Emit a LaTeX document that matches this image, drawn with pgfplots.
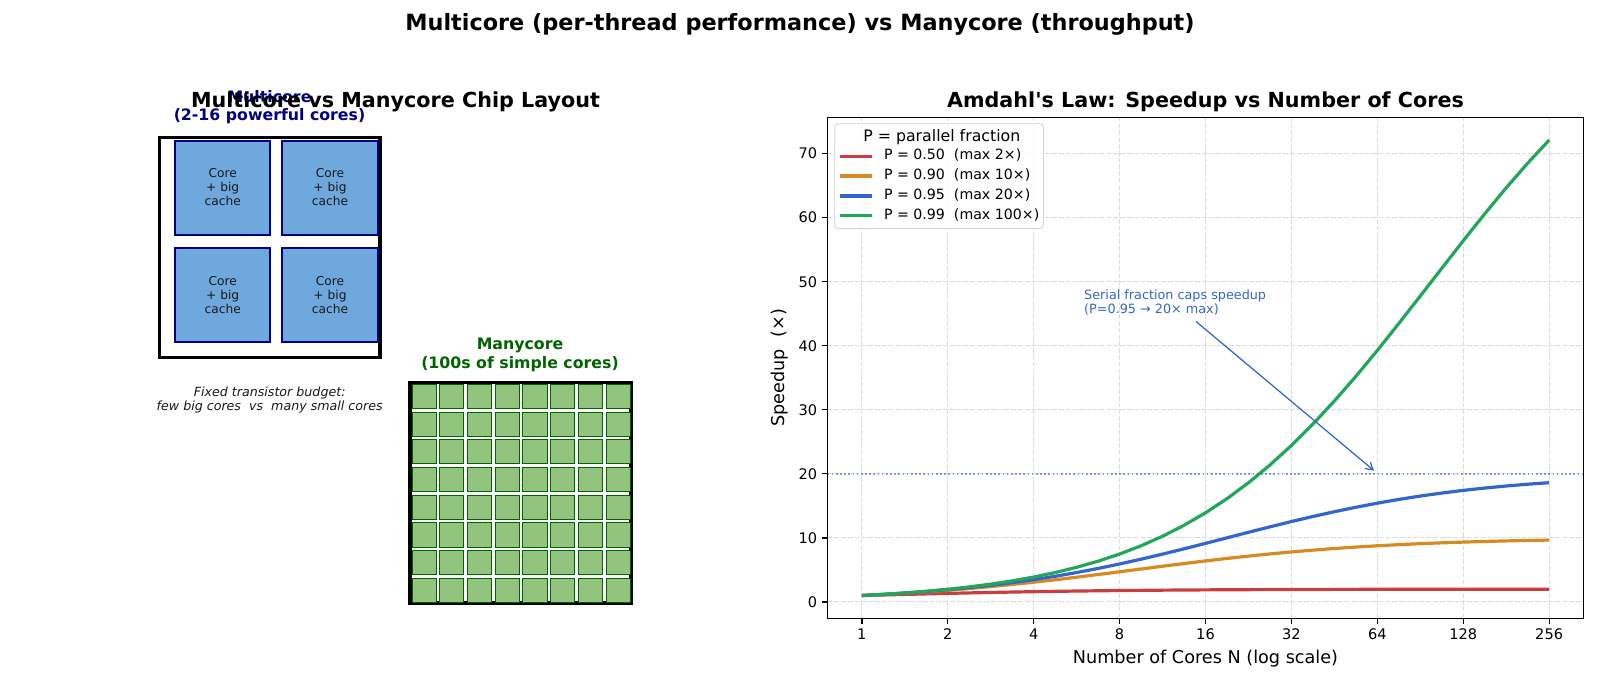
\documentclass[border=0pt]{standalone}
\usepackage{fontspec}
\setmainfont{DejaVu Sans}[Ligatures=TeXOff]
\usepackage{pgfplots}
\pgfplotsset{compat=1.18}
\usetikzlibrary{arrows.meta}
\definecolor{cred}{HTML}{C93F3F}
\definecolor{corange}{HTML}{D88A22}
\definecolor{cblue}{HTML}{3366CC}
\definecolor{cgreen}{HTML}{22A65A}
\definecolor{navyc}{RGB}{0,0,128}
\definecolor{dgreen}{RGB}{0,100,0}
\definecolor{coreblue}{HTML}{6FA8DC}
\definecolor{cellgreen}{HTML}{93C47D}
\newcommand{\fsz}[1]{\fontsize{#1}{#1}\selectfont}
\begin{document}
\begin{tikzpicture}
\path (0,0) rectangle (1152pt,493.92pt);
% ---------------- overlay axis in pixel units: left panel diagram + suptitle
\begin{axis}[at={(0pt,0pt)}, anchor=south west, scale only axis,
  width=1152pt, height=493.92pt, xmin=0, xmax=1600, ymin=0, ymax=686,
  y dir=reverse, hide axis, clip=false]
% suptitle
\node[font=\bfseries\fsz{16.1}, anchor=center] at (axis cs:800,24.5) {Multicore (per-thread performance) vs Manycore (throughput)};
% multicore labels
\node[font=\bfseries\fsz{11.35}, text=navyc] at (axis cs:269.5,97) {Multicore};
\node[font=\bfseries\fsz{11.35}, text=navyc] at (axis cs:269.5,116) {(2-16 powerful cores)};
% panel title
\node[font=\bfseries\fsz{14.9}, anchor=base, inner sep=0pt] at (axis cs:395.5,107.7) {Multicore vs Manycore Chip Layout};
% multicore chip
\draw[line width=2.2pt] (axis cs:159.5,137.5) rectangle (axis cs:380,357.5);
\draw[fill=coreblue, draw=navyc, line width=1.4pt] (axis cs:175,140.7) rectangle (axis cs:270.3,235.3);
\draw[fill=coreblue, draw=navyc, line width=1.4pt] (axis cs:282.3,140.7) rectangle (axis cs:377.7,235.3);
\draw[fill=coreblue, draw=navyc, line width=1.4pt] (axis cs:175,247.7) rectangle (axis cs:270.3,342.3);
\draw[fill=coreblue, draw=navyc, line width=1.4pt] (axis cs:282.3,247.7) rectangle (axis cs:377.7,342.3);
\node[font=\fontsize{8.8}{10.1}\selectfont, align=center, text=black!90] at (axis cs:222.7,187.2) {Core\\+ big\\cache};
\node[font=\fontsize{8.8}{10.1}\selectfont, align=center, text=black!90] at (axis cs:330,187.2) {Core\\+ big\\cache};
\node[font=\fontsize{8.8}{10.1}\selectfont, align=center, text=black!90] at (axis cs:222.7,294.7) {Core\\+ big\\cache};
\node[font=\fontsize{8.8}{10.1}\selectfont, align=center, text=black!90] at (axis cs:330,294.7) {Core\\+ big\\cache};
% caption
\node[font=\itshape\fsz{9.1}, text=black!90] at (axis cs:269.7,392.7) {Fixed transistor budget:};
\node[font=\itshape\fsz{9.1}, text=black!90] at (axis cs:269.7,407.3) {few big cores\ \ vs\ \ many small cores};
% manycore labels
\node[font=\bfseries\fsz{11.35}, text=dgreen] at (axis cs:520,345.7) {Manycore};
\node[font=\bfseries\fsz{11.35}, text=dgreen] at (axis cs:520,364) {(100s of simple cores)};
% manycore cells
\addplot[only marks, mark=square*, mark size=8.65pt,
  mark options={fill=cellgreen, draw=dgreen, line width=0.7pt}] coordinates {
(424.2,396.5) (451.9,396.5) (479.6,396.5) (507.3,396.5) (535.0,396.5) (562.7,396.5) (590.4,396.5) (618.1,396.5)
(424.2,424.2) (451.9,424.2) (479.6,424.2) (507.3,424.2) (535.0,424.2) (562.7,424.2) (590.4,424.2) (618.1,424.2)
(424.2,451.9) (451.9,451.9) (479.6,451.9) (507.3,451.9) (535.0,451.9) (562.7,451.9) (590.4,451.9) (618.1,451.9)
(424.2,479.6) (451.9,479.6) (479.6,479.6) (507.3,479.6) (535.0,479.6) (562.7,479.6) (590.4,479.6) (618.1,479.6)
(424.2,507.3) (451.9,507.3) (479.6,507.3) (507.3,507.3) (535.0,507.3) (562.7,507.3) (590.4,507.3) (618.1,507.3)
(424.2,535.0) (451.9,535.0) (479.6,535.0) (507.3,535.0) (535.0,535.0) (562.7,535.0) (590.4,535.0) (618.1,535.0)
(424.2,562.7) (451.9,562.7) (479.6,562.7) (507.3,562.7) (535.0,562.7) (562.7,562.7) (590.4,562.7) (618.1,562.7)
(424.2,590.2) (451.9,590.2) (479.6,590.2) (507.3,590.2) (535.0,590.2) (562.7,590.2) (590.4,590.2) (618.1,590.2)
};
\draw[line width=2.5pt] (axis cs:410,382.5) rectangle (axis cs:631,603);
\end{axis}
% ---------------- Amdahl axis
\begin{axis}[at={(595.8pt,48.74pt)}, anchor=south west, scale only axis,
  width=544.32pt, height=360.72pt,
  xmode=log, log basis x=2, xmin=0.75786, xmax=337.79, ymin=-2.5556, ymax=75.668,
  xtick={1,2,4,8,16,32,64,128,256}, xticklabels={1,2,4,8,16,32,64,128,256},
  ytick={0,10,20,30,40,50,60,70},
  /pgf/number format/assume math mode=true,
  tick label style={font=\fsz{10.5}},
  tick align=outside, tick pos=left, major tick length=4pt,
  every tick/.style={black, line width=0.9pt},
  axis line style={line width=0.9pt},
  grid=major, grid style={gray!28, line width=0.7pt, dash pattern=on 3.4pt off 1.5pt},
  xlabel={Number of Cores N (log scale)}, ylabel={Speedup\ \ (×)},
  label style={font=\fsz{12.7}},
  xlabel style={at={(axis description cs:0.5,-0.0812)}, anchor=center},
  ylabel style={at={(axis description cs:-0.0628,0.5)}, anchor=center},
  title={Amdahl's Law: Speedup vs Number of Cores},
  every axis title shift=0pt,
  title style={font=\bfseries\fsz{14.9}, at={(axis description cs:0.5,1)}, anchor=base, yshift=6.9pt, inner sep=0pt},
  legend cell align=left,
  legend style={at={(0.009,0.988)}, anchor=north west, draw=gray!35, line width=0.6pt,
    rounded corners=2.5pt, fill=white, fill opacity=0.8, text opacity=1,
    font=\fsz{10.2}, inner xsep=3pt, inner ysep=4pt, row sep=4.1pt, column sep=7.2pt,
    nodes={inner sep=0pt, text height=7.6pt, text depth=2.6pt}},
  legend image code/.code={\draw[#1, line width=2.3pt] (0pt,0pt) -- (23pt,0pt);},
]
\addlegendimage{empty legend}
\addlegendentry{\hspace*{-14.9pt}\raisebox{-1.5pt}{\fsz{11.35}P = parallel fraction}}
\addplot[cred, line width=2.3pt] coordinates {
(1,1) (1.18921,1.08643) (1.41421,1.17157) (1.68179,1.25423) (2,1.33333) (2.37841,1.40801) (2.82843,1.47759) (3.36359,1.54166)
(4,1.6) (4.75683,1.65259) (5.65685,1.69956) (6.72717,1.74117) (8,1.77778) (9.51366,1.80977) (11.3137,1.83760) (13.4543,1.86163)
(16,1.88235) (19.0273,1.90014) (22.6274,1.91535) (26.9087,1.92834) (32,1.93939) (38.0546,1.94879) (45.2548,1.95676) (53.8174,1.96351)
(64,1.96923) (76.1093,1.97406) (90.5097,1.97815) (107.635,1.98159) (128,1.98450) (152.219,1.98695) (181.019,1.98901) (215.269,1.99076) (256,1.99222)
};
\addlegendentry{P = 0.50~~(max 2×)}
\addplot[corange, line width=2.3pt] coordinates {
(1,1) (1.18921,1.16712) (1.41421,1.35796) (1.68179,1.57446) (2,1.81818) (2.37841,2.09029) (2.82843,2.39122) (3.36359,2.72056)
(4,3.07692) (4.75683,3.45779) (5.65685,3.85953) (6.72717,4.27739) (8,4.70588) (9.51366,5.13873) (11.3137,5.56950) (13.4543,5.99186)
(16,6.4) (19.0273,6.78889) (22.6274,7.15447) (26.9087,7.49364) (32,7.80488) (38.0546,8.08734) (45.2548,8.34116) (53.8174,8.56726)
(64,8.76712) (76.1093,8.94253) (90.5097,9.09556) (107.635,9.22836) (128,9.34307) (152.219,9.44174) (181.019,9.52638) (215.269,9.59869) (256,9.66038)
};
\addlegendentry{P = 0.90~~(max 10×)}
\addplot[cblue, line width=2.3pt] coordinates {
(1,1) (1.18921,1.17807) (1.41421,1.38553) (1.68179,1.62636) (2,1.90476) (2.37841,2.22506) (2.82843,2.59151) (3.36359,3.00809)
(4,3.47826) (4.75683,4.00461) (5.65685,4.58846) (6.72717,5.22961) (8,5.92593) (9.51366,6.67306) (11.3137,7.46441) (13.4543,8.29125)
(16,9.14286) (19.0273,10.00716) (22.6274,10.87138) (26.9087,11.72289) (32,12.54902) (38.0546,13.33955) (45.2548,14.08606) (53.8174,14.78150)
(64,15.42169) (76.1093,16.00463) (90.5097,16.53000) (107.635,16.99918) (128,17.41497) (152.219,17.78055) (181.019,18.10017) (215.269,18.37797) (256,18.61818)
};
\addlegendentry{P = 0.95~~(max 20×)}
\addplot[cgreen, line width=2.3pt] coordinates {
(1,1) (1.18921,1.18696) (1.41421,1.40838) (1.68179,1.67040) (2,1.98020) (2.37841,2.34607) (2.82843,2.77764) (3.36359,3.28592)
(4,3.88350) (4.75683,4.58459) (5.65685,5.40514) (6.72717,6.36276) (8,7.47664) (9.51366,8.76725) (11.3137,10.25593) (13.4543,11.96426)
(16,13.91304) (19.0273,16.12109) (22.6274,18.60386) (26.9087,21.37148) (32,24.42748) (38.0546,27.76603) (45.2548,31.37142) (53.8174,35.21684)
(64,39.26380) (76.1093,43.46387) (90.5097,47.76097) (107.635,52.08943) (128,56.38767) (152.219,60.59223) (181.019,64.64657) (215.269,68.49824) (256,72.11268)
};
\addlegendentry{P = 0.99~~(max 100×)}
\addplot[cblue, opacity=0.6, line width=1.3pt, dash pattern=on 1.2pt off 1.8pt, forget plot] coordinates {(0.75786,20) (337.79,20)};
\node[font=\fsz{9.2}, text=cblue, anchor=base west, inner sep=0pt] at (axis cs:6,47.23) {Serial fraction caps speedup};
\node[font=\fsz{9.2}, text=cblue, anchor=base west, inner sep=0pt] at (axis cs:6,45) {(P=0.95 → 20× max)};
\draw[cblue, line width=0.9pt, -{Straight Barb[length=5pt,width=6pt]}] (axis cs:14.83,43.78) -- (axis cs:62.3,20.5);
\end{axis}
\end{tikzpicture}
\end{document}
